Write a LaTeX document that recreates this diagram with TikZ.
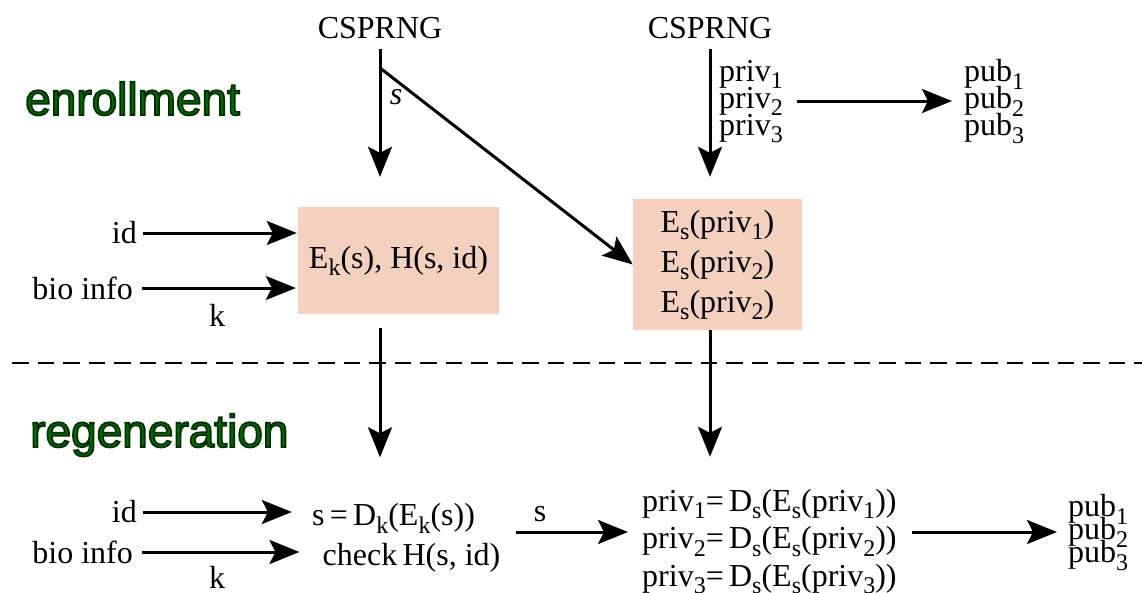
\documentclass[tikz,border=0pt]{standalone}
\usepackage{fontspec}
\setmainfont{Liberation Serif}
\newfontfamily\phasefont{Liberation Sans}
\usetikzlibrary{arrows.meta,calc}

\definecolor{boxfill}{RGB}{243,209,190}
\definecolor{phasegreen}{RGB}{0,104,0}

% lowered, smaller index (kept out of the line height)
\newcommand\lo[1]{\raisebox{-0.24em}[0pt][0pt]{\fontsize{24}{24}\selectfont #1}}
% text drawn filled and stroked with a darker green rim
\newcommand\outlined[1]{\special{pdf:literal direct 2 Tr 1.7 w 0 0.18 0 RG}#1\special{pdf:literal direct 0 Tr 0 G}}

\begin{document}
\lineskiplimit=-100pt\relax
\begin{tikzpicture}[x=1pt,y=-1pt,
  every node/.style={inner sep=0pt, font=\fontsize{32}{38}\selectfont},
  arr/.style={line width=3pt, -{Stealth[length=30pt,width=24pt,inset=6pt]}},
  phase/.style={anchor=base west, text=phasegreen, font=\phasefont\fontsize{46}{46}\selectfont},
  cell/.style={fill=boxfill, align=center},
  stack/.style={anchor=west, align=left, font=\fontsize{32}{#1}\selectfont},
  dashline/.style={line width=2pt, dash pattern=on 16.5pt off 9pt}]

\useasboundingbox (0,0) rectangle (1142,592);

% phase titles
\node[phase] (enr) at (25,115) {\outlined{enrollment}};
\node[phase] (reg) at (30,447) {\outlined{regeneration}};

% enrollment
\node (csL) at (380,28) {CSPRNG};
\node (csR) at (710,28) {CSPRNG};
\node[cell, minimum width=201pt, minimum height=107pt] (b1) at (398.5,260.5) {E\lo{k}(s), H(s, id)};
\node[cell, minimum width=169pt, minimum height=131pt, font=\fontsize{32}{40}\selectfont] (b2) at (717.5,264.5)
  {E\lo{s}(priv\lo{1})\\E\lo{s}(priv\lo{2})\\E\lo{s}(priv\lo{2})};
\node[font=\fontsize{32}{38}\selectfont\itshape] (sU) at (396,97.5) {s};
\node[stack=27] (privU) at (719,101) {priv\lo{1}\\priv\lo{2}\\priv\lo{3}};
\node[stack=27] (pubU) at (964,101) {pub\lo{1}\\pub\lo{2}\\pub\lo{3}};
\node[anchor=east] (idU) at (137,233) {id};
\node[anchor=east] (bioU) at (133,288) {bio info};
\node (kU) at (217,315) {k};

\draw[arr, shorten <=10pt, shorten >=30pt] (csL.south) -- (csL.south |- b1.north);
\draw[arr] ($(csL.south)+(0,29)$) -- (b2.west);
\draw[arr, shorten <=10pt, shorten >=22pt] (csR.south) -- (csR.south |- b2.north);
\draw[arr, shorten <=14pt, shorten >=12pt] (privU.east) -- (privU.east -| pubU.west);
\draw[arr, shorten <=6pt, shorten >=1pt] (idU.east) -- (idU.east -| b1.west);
\draw[arr, shorten <=9pt, shorten >=2pt] (bioU.east) -- (bioU.east -| b1.west);

% boundary between the two phases
\coordinate (dl) at (12,363);
\coordinate (dr) at (1142,363);
\draw[dashline] (dl) -- (dr);

% regeneration
\node (r1) at (393.5,518) {s\,=\,D\lo{k}(E\lo{k}(s))};
\node (r2) at (411.5,558) {check\,H(s, id)};
\node[anchor=east] (idL) at (137,512) {id};
\node[anchor=east] (bioL) at (133,552) {bio info};
\node (kL) at (217,577) {k};
\node (sL) at (540,514) {s};
\node[stack=37.5] (pvL) at (642,541)
  {priv\lo{1}=\,D\lo{s}(E\lo{s}(priv\lo{1}))\\priv\lo{2}=\,D\lo{s}(E\lo{s}(priv\lo{2}))\\priv\lo{3}=\,D\lo{s}(E\lo{s}(priv\lo{3}))};
\node[stack=23] (pubL) at (1068,532) {pub\lo{1}\\pub\lo{2}\\pub\lo{3}};

\draw[arr, shorten <=14pt, shorten >=46pt] (b1.south -| csL) -- (csL |- r1.north);
\draw[arr, shorten >=32pt] (b2.south -| csR) -- (csR |- pvL.north);
\draw[arr, shorten <=6pt, shorten >=20pt] (idL.east) -- (idL.east -| r1.west);
\draw[arr, shorten <=9pt, shorten >=23pt] (bioL.east) -- (bioL.east -| r2.west);
\draw[arr, shorten <=15pt, shorten >=14pt] ([yshift=9pt]pvL.west -| r2.east) -- ([yshift=9pt]pvL.west);
\draw[arr, shorten <=15pt, shorten >=11pt] ([yshift=9pt]pvL.east) -- ([yshift=9pt]pvL.east -| pubL.west);
\end{tikzpicture}
\end{document}
